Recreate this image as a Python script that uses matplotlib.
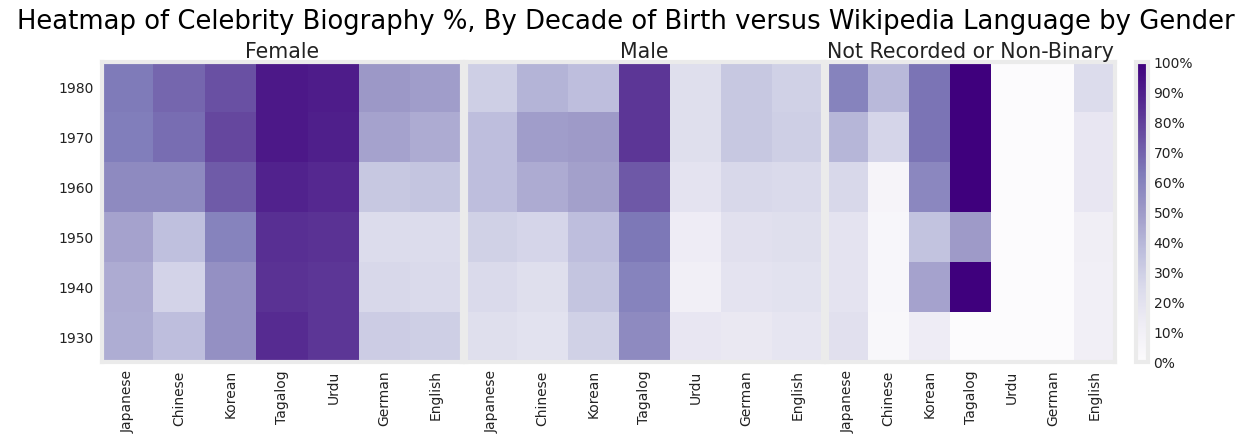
import numpy as np
import matplotlib
matplotlib.use("Agg")
import matplotlib.pyplot as plt
from matplotlib.ticker import FuncFormatter

# ── data (share of biographies, 0-1) ──────────────────────────────────────────
decades = ["1980", "1970", "1960", "1950", "1940", "1930"]
languages = ["Japanese", "Chinese", "Korean", "Tagalog", "Urdu", "German", "English"]
genders = ["Female", "Male", "Not Recorded or Non-Binary"]

female = [
    [0.63, 0.69, 0.75, 0.92, 0.91, 0.51, 0.49],
    [0.62, 0.67, 0.78, 0.92, 0.90, 0.47, 0.44],
    [0.57, 0.57, 0.72, 0.89, 0.87, 0.33, 0.34],
    [0.47, 0.36, 0.60, 0.85, 0.84, 0.24, 0.24],
    [0.44, 0.28, 0.54, 0.84, 0.83, 0.26, 0.25],
    [0.43, 0.37, 0.54, 0.86, 0.83, 0.31, 0.30],
]
male = [
    [0.30, 0.41, 0.37, 0.83, 0.22, 0.33, 0.29],
    [0.37, 0.49, 0.50, 0.83, 0.22, 0.33, 0.30],
    [0.37, 0.44, 0.48, 0.73, 0.19, 0.26, 0.25],
    [0.29, 0.27, 0.37, 0.64, 0.13, 0.21, 0.22],
    [0.25, 0.22, 0.34, 0.60, 0.11, 0.19, 0.20],
    [0.22, 0.20, 0.29, 0.57, 0.17, 0.16, 0.18],
]
not_recorded = [
    [0.60, 0.39, 0.65, 1.00, 0.00, 0.00, 0.24],
    [0.40, 0.27, 0.65, 1.00, 0.00, 0.00, 0.17],
    [0.26, 0.06, 0.58, 1.00, 0.00, 0.00, 0.17],
    [0.19, 0.05, 0.35, 0.50, 0.00, 0.00, 0.12],
    [0.19, 0.05, 0.47, 1.00, 0.00, 0.00, 0.11],
    [0.21, 0.04, 0.13, 0.00, 0.00, 0.00, 0.11],
]

FRAME = "#ebebeb"
TEXT = "#222222"

fig = plt.figure(figsize=(12.52, 4.37), dpi=100)

# axes rectangles in figure coords
boxes = [
    [0.0815, 0.1716, 0.2873, 0.6865],
    [0.3720, 0.1716, 0.2854, 0.6865],
    [0.6605, 0.1716, 0.2300, 0.6865],
]

mesh = None
for i, (name, vals, box) in enumerate(zip(genders, [female, male, not_recorded], boxes)):
    ax = fig.add_axes(box)
    arr = np.array(vals)
    mesh = ax.pcolormesh(arr, cmap="Purples", vmin=0, vmax=1)
    ax.set_xlim(0, len(languages))
    ax.set_ylim(len(decades), 0)
    ax.set_xticks(np.arange(len(languages)) + 0.5)
    ax.set_xticklabels(languages, rotation=90, fontsize=10, color=TEXT)
    ax.set_yticks(np.arange(len(decades)) + 0.5)
    if i == 0:
        ax.set_yticklabels(decades, fontsize=10, color=TEXT)
    else:
        ax.set_yticklabels([])
    ax.tick_params(length=0, pad=6)
    for sp in ax.spines.values():
        sp.set_color(FRAME)
        sp.set_linewidth(3)
    ax.set_title(name, fontsize=14.8, color=TEXT, pad=3)

cax = fig.add_axes([0.9073, 0.1716, 0.0096, 0.6865])
cb = fig.colorbar(mesh, cax=cax)
cb.set_ticks(np.linspace(0, 1, 11))
cb.ax.yaxis.set_major_formatter(FuncFormatter(lambda v, _: f"{v * 100:.0f}%"))
cb.ax.tick_params(length=0, labelsize=10, colors=TEXT, pad=4)
cb.outline.set_edgecolor(FRAME)
cb.outline.set_linewidth(3)

fig.suptitle("Heatmap of Celebrity Biography %, By Decade of Birth versus Wikipedia Language by Gender",
             fontsize=18.6, color="black", x=0.5, y=0.98)

fig.savefig("out.png", dpi=100, facecolor="white")
plt.close(fig)
